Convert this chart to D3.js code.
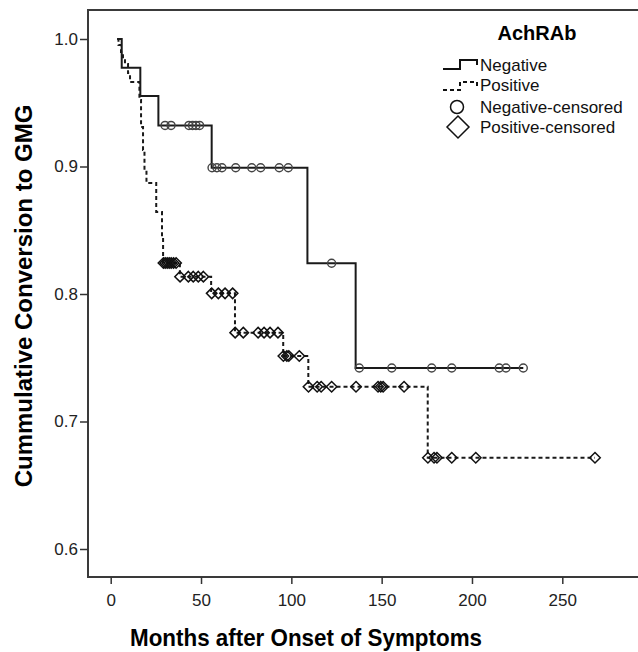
<!DOCTYPE html>
<html>
<head>
<meta charset="utf-8">
<script src="https://cdn.jsdelivr.net/npm/d3@7"></script>
<style>
  body { margin: 0; background: #fff; }
  svg text { font-family: "Liberation Sans", Arial, sans-serif; }
</style>
</head>
<body>
<div id="chart"></div>
<script>
// axis ticks
const xTicks = [0, 50, 100, 150, 200, 250];
const yTicks = [0.6, 0.7, 0.8, 0.9, 1.0];

// AchRAb negative : step times (months) and cumulative value after each step
const negTimes = [3.6, 6.1, 16.4, 26.4, 55.9, 108.9, 135.6];
const negSurv  = [1.0, 0.9775, 0.9553, 0.9322, 0.8990, 0.8241, 0.7420];
const negCensored = [30.1, 33.4, 43.3, 45.3, 47.2, 49.2, 56.1, 58.8, 61.6, 69.2, 78.1, 83.0,
                     93.3, 98.3, 122.3, 137.6, 155.6, 177.7, 188.8, 215.1, 218.8, 228.4];

// AchRAb positive
const posTimes = [3.6, 4.3, 5.7, 6.8, 7.9, 9.6, 10.7, 15.9, 16.8, 17.9, 18.7, 19.8,
                  25.2, 28.4, 29.0, 38.3, 55.6, 68.8, 95.5, 109.4, 175.5];
const posSurv  = [1.0, 0.9953, 0.9898, 0.9843, 0.9804, 0.9733, 0.9663, 0.9522, 0.9310, 0.9129, 0.8973, 0.8871,
                  0.8643, 0.8440, 0.8243, 0.8136, 0.8005, 0.7697, 0.7514, 0.7273, 0.6716];
const posCensored = [29.2, 30.2, 31.3, 32.4, 33.5, 34.8, 36.2,
                     38.4, 43.0, 45.7, 48.5, 51.3,
                     55.9, 59.6, 63.3, 67.5,
                     68.9, 73.4, 81.6, 84.9, 88.2, 92.6,
                     95.6, 97.5, 98.6, 104.4,
                     109.5, 114.3, 116.5, 122.3, 135.8, 148.0, 149.5, 150.8, 162.4,
                     175.6, 179.0, 180.6, 188.8, 202.1, 268.1];

const legendItems = ["Negative", "Positive", "Negative-censored", "Positive-censored"];

const width = 638, height = 652;
const frame = {left: 88, top: 10, right: 640, bottom: 577};

const x = d3.scaleLinear().domain([0, 250]).range([110.7, 562.3]);
const y = d3.scaleLinear().domain([0.6, 1.0]).range([549, 39]);

const svg = d3.select("#chart").append("svg")
  .attr("width", width)
  .attr("height", height);

// cadre
svg.append("path")
  .attr("d", `M${frame.right},${frame.top}H${frame.left}V${frame.bottom}H${frame.right}`)
  .attr("fill", "none")
  .attr("stroke", "#3a3a3a")
  .attr("stroke-width", 2);

// axes
const xAxis = svg.append("g")
  .attr("transform", `translate(0,${frame.bottom})`)
  .call(d3.axisBottom(x).tickValues(xTicks).tickSize(7).tickPadding(10));
xAxis.select(".domain").remove();
xAxis.selectAll("line").attr("stroke", "#333").attr("stroke-width", 1.5);
xAxis.selectAll("text").attr("font-size", 17).attr("fill", "#222")
  .style("font-family", "'Liberation Sans', Arial, sans-serif");

const yAxis = svg.append("g")
  .attr("transform", `translate(${frame.left},0)`)
  .call(d3.axisLeft(y).tickValues(yTicks).tickFormat(d3.format(".1f")).tickSize(8).tickPadding(2));
yAxis.select(".domain").remove();
yAxis.selectAll("line").attr("stroke", "#333").attr("stroke-width", 1.5);
yAxis.selectAll("text").attr("font-size", 17).attr("fill", "#222")
  .style("font-family", "'Liberation Sans', Arial, sans-serif");

// titres
svg.append("text")
  .attr("x", 306).attr("y", 646)
  .attr("text-anchor", "middle")
  .attr("font-size", 24).attr("font-weight", "bold")
  .attr("textLength", 352).attr("lengthAdjust", "spacingAndGlyphs")
  .text("Months after Onset of Symptoms");

svg.append("text")
  .attr("transform", "translate(32,296) rotate(-90)")
  .attr("text-anchor", "middle")
  .attr("font-size", 24).attr("font-weight", "bold")
  .text("Cummulative Conversion to GMG");

// courbes de Kaplan-Meier
function kmPoints(times, surv, end) {
  const pts = times.map((t, i) => [t, surv[i]]);
  pts.push([end, surv[surv.length - 1]]);
  return pts;
}
function kmAt(times, surv, t) {
  let s = surv[0];
  times.forEach((ti, i) => { if (ti <= t) s = surv[i]; });
  return s;
}

const line = d3.line()
  .x(d => x(d[0]))
  .y(d => y(d[1]))
  .curve(d3.curveStepAfter);

const curves = svg.append("g");

curves.append("path")
  .datum(kmPoints(posTimes, posSurv, d3.max(posCensored)))
  .attr("d", line)
  .attr("fill", "none")
  .attr("stroke", "#1a1a1a")
  .attr("stroke-width", 2)
  .attr("stroke-dasharray", "4,3");

curves.append("path")
  .datum(kmPoints(negTimes, negSurv, d3.max(negCensored)))
  .attr("d", line)
  .attr("fill", "none")
  .attr("stroke", "#1a1a1a")
  .attr("stroke-width", 2);

// censures
const diamond = d3.symbol().type(d3.symbolDiamond2).size(70);

curves.selectAll("path.pos-cens")
  .data(posCensored)
  .enter()
  .append("path")
  .attr("class", "pos-cens")
  .attr("d", diamond)
  .attr("transform", d => `translate(${x(d)},${y(kmAt(posTimes, posSurv, d))})`)
  .attr("fill", "none")
  .attr("stroke", "#111")
  .attr("stroke-width", 1.5);

curves.selectAll("circle.neg-cens")
  .data(negCensored)
  .enter()
  .append("circle")
  .attr("class", "neg-cens")
  .attr("cx", d => x(d))
  .attr("cy", d => y(kmAt(negTimes, negSurv, d)))
  .attr("r", 4)
  .attr("fill", "none")
  .attr("stroke", "#444")
  .attr("stroke-width", 1.4);

// légende
const legend = svg.append("g");

legend.append("text")
  .attr("x", 537).attr("y", 40)
  .attr("text-anchor", "middle")
  .attr("font-size", 20).attr("font-weight", "bold")
  .text("AchRAb");

const rowsY = [71, 91, 113, 133];

legend.append("path")
  .attr("d", "M443,69H460V60H477V65")
  .attr("fill", "none").attr("stroke", "#111").attr("stroke-width", 2);
legend.append("path")
  .attr("d", "M443,90H460V82H477V86")
  .attr("fill", "none").attr("stroke", "#111").attr("stroke-width", 2)
  .attr("stroke-dasharray", "4,3");
legend.append("circle")
  .attr("cx", 457).attr("cy", 107).attr("r", 6.5)
  .attr("fill", "none").attr("stroke", "#111").attr("stroke-width", 1.5);
legend.append("path")
  .attr("d", "M458,116L469,127L458,138L447,127Z")
  .attr("fill", "none").attr("stroke", "#111").attr("stroke-width", 1.5);

legend.selectAll("text.item")
  .data(legendItems)
  .enter()
  .append("text")
  .attr("class", "item")
  .attr("x", 480)
  .attr("y", (d, i) => rowsY[i])
  .attr("font-size", 17)
  .attr("fill", "#111")
  .text(d => d);
</script>
</body>
</html>
